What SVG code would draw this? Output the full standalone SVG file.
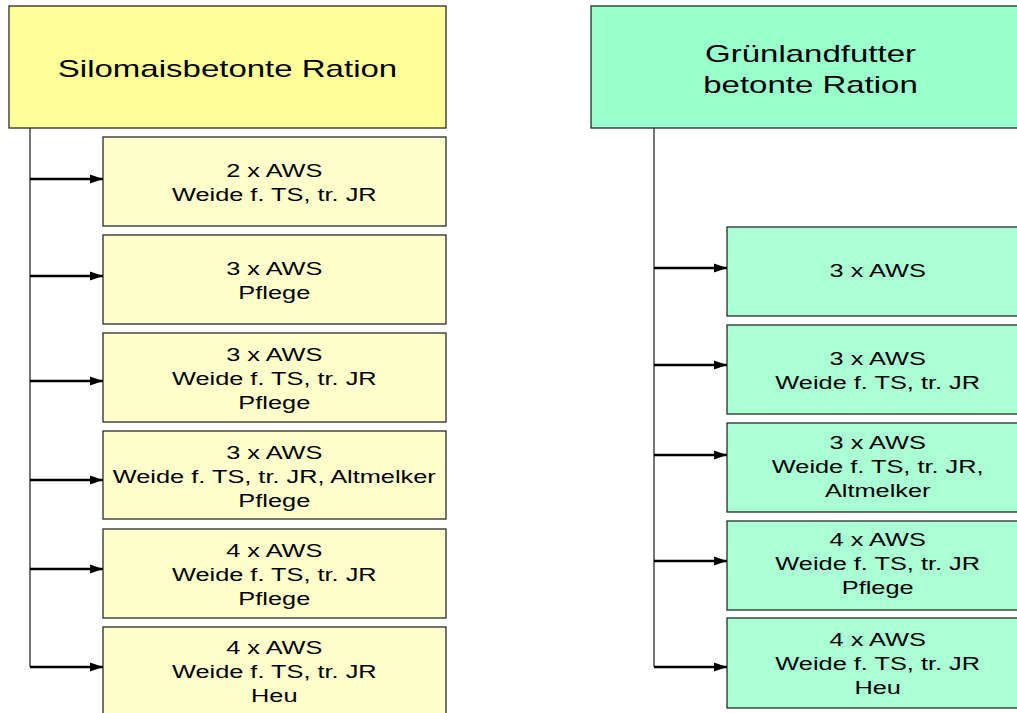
<svg xmlns="http://www.w3.org/2000/svg" width="1017" height="713" viewBox="0 0 1017 713">
  <style>
    .box { stroke: #2a2a2a; stroke-width: 1.3; }
    .hdr-y { fill: #FFFF99; }
    .kid-y { fill: #FFFFCC; }
    .hdr-g { fill: #99FFCC; }
    .kid-g { fill: #AAFFD5; }
    text { font-family: "Liberation Sans", Arial, sans-serif; fill: #000; text-anchor: middle; }
    .h { font-size: 23px; }
    .k { font-size: 19px; }
    .trunk { stroke: #3a3a3a; stroke-width: 1.4; fill: none; }
    .arrow { stroke: #000; stroke-width: 2.3; fill: none; marker-end: url(#head); }
  </style>
  <defs>
    <marker id="head" markerUnits="userSpaceOnUse" markerWidth="13" markerHeight="11" refX="13" refY="5.5" orient="auto">
      <path d="M0,1 L13,5.5 L0,10 Z" fill="#000"/>
    </marker>
  </defs>
  <rect width="1017" height="713" fill="#fff"/>

  <!-- connectors -->
  <g id="connectors">
    <path class="trunk" d="M30,128 V667"/>
    <path class="arrow" d="M30,179 H103"/>
    <path class="arrow" d="M30,276 H103"/>
    <path class="arrow" d="M30,381 H103"/>
    <path class="arrow" d="M30,480 H103"/>
    <path class="arrow" d="M30,569 H103"/>
    <path class="arrow" d="M30,667 H103"/>
    <path class="trunk" d="M654,128 V667"/>
    <path class="arrow" d="M654,268 H727"/>
    <path class="arrow" d="M654,365 H727"/>
    <path class="arrow" d="M654,455 H727"/>
    <path class="arrow" d="M654,561 H727"/>
    <path class="arrow" d="M654,667 H727"/>
  </g>

  <!-- silage maize column -->
  <g id="silomais">
    <rect class="box hdr-y" x="9" y="6" width="437" height="122"/>
    <text class="h" transform="translate(227.5,77.3) scale(1.435,1)" x="0" y="0">Silomaisbetonte Ration</text>
  </g>
  <g id="s1">
    <rect class="box kid-y" x="103" y="137" width="343" height="89"/>
    <text class="k" transform="translate(274.3,0) scale(1.335,1)"><tspan x="0" y="177">2 x AWS</tspan><tspan x="0" y="201">Weide f. TS, tr. JR</tspan></text>
  </g>
  <g id="s2">
    <rect class="box kid-y" x="103" y="235" width="343" height="89"/>
    <text class="k" transform="translate(274.3,0) scale(1.335,1)"><tspan x="0" y="275">3 x AWS</tspan><tspan x="0" y="299">Pflege</tspan></text>
  </g>
  <g id="s3">
    <rect class="box kid-y" x="103" y="333" width="343" height="89"/>
    <text class="k" transform="translate(274.3,0) scale(1.335,1)"><tspan x="0" y="361">3 x AWS</tspan><tspan x="0" y="385">Weide f. TS, tr. JR</tspan><tspan x="0" y="409">Pflege</tspan></text>
  </g>
  <g id="s4">
    <rect class="box kid-y" x="103" y="431" width="343" height="88"/>
    <text class="k" transform="translate(274.3,0) scale(1.335,1)"><tspan x="0" y="459">3 x AWS</tspan><tspan x="0" y="483">Weide f. TS, tr. JR, Altmelker</tspan><tspan x="0" y="507">Pflege</tspan></text>
  </g>
  <g id="s5">
    <rect class="box kid-y" x="103" y="529" width="343" height="89"/>
    <text class="k" transform="translate(274.3,0) scale(1.335,1)"><tspan x="0" y="557">4 x AWS</tspan><tspan x="0" y="581">Weide f. TS, tr. JR</tspan><tspan x="0" y="605">Pflege</tspan></text>
  </g>
  <g id="s6">
    <rect class="box kid-y" x="103" y="627" width="343" height="90"/>
    <text class="k" transform="translate(274.3,0) scale(1.335,1)"><tspan x="0" y="654">4 x AWS</tspan><tspan x="0" y="678">Weide f. TS, tr. JR</tspan><tspan x="0" y="702">Heu</tspan></text>
  </g>

  <!-- grassland column -->
  <g id="gruenland">
    <rect class="box hdr-g" x="591" y="6" width="439" height="122"/>
    <text class="h" transform="translate(810.5,0) scale(1.435,1)"><tspan x="0" y="61.7">Grünlandfutter</tspan><tspan x="0" y="93.3">betonte Ration</tspan></text>
  </g>
  <g id="g1">
    <rect class="box kid-g" x="727" y="227" width="302" height="89"/>
    <text class="k" transform="translate(877.7,0) scale(1.335,1)"><tspan x="0" y="277">3 x AWS</tspan></text>
  </g>
  <g id="g2">
    <rect class="box kid-g" x="727" y="325" width="302" height="89"/>
    <text class="k" transform="translate(877.7,0) scale(1.335,1)"><tspan x="0" y="365">3 x AWS</tspan><tspan x="0" y="389">Weide f. TS, tr. JR</tspan></text>
  </g>
  <g id="g3">
    <rect class="box kid-g" x="727" y="423" width="302" height="89"/>
    <text class="k" transform="translate(877.7,0) scale(1.335,1)"><tspan x="0" y="449.5">3 x AWS</tspan><tspan x="0" y="473.5">Weide f. TS, tr. JR,</tspan><tspan x="0" y="497.5">Altmelker</tspan></text>
  </g>
  <g id="g4">
    <rect class="box kid-g" x="727" y="521" width="302" height="89"/>
    <text class="k" transform="translate(877.7,0) scale(1.335,1)"><tspan x="0" y="546">4 x AWS</tspan><tspan x="0" y="570">Weide f. TS, tr. JR</tspan><tspan x="0" y="594">Pflege</tspan></text>
  </g>
  <g id="g5">
    <rect class="box kid-g" x="727" y="618" width="302" height="90"/>
    <text class="k" transform="translate(877.7,0) scale(1.335,1)"><tspan x="0" y="646">4 x AWS</tspan><tspan x="0" y="670">Weide f. TS, tr. JR</tspan><tspan x="0" y="694">Heu</tspan></text>
  </g>
</svg>
